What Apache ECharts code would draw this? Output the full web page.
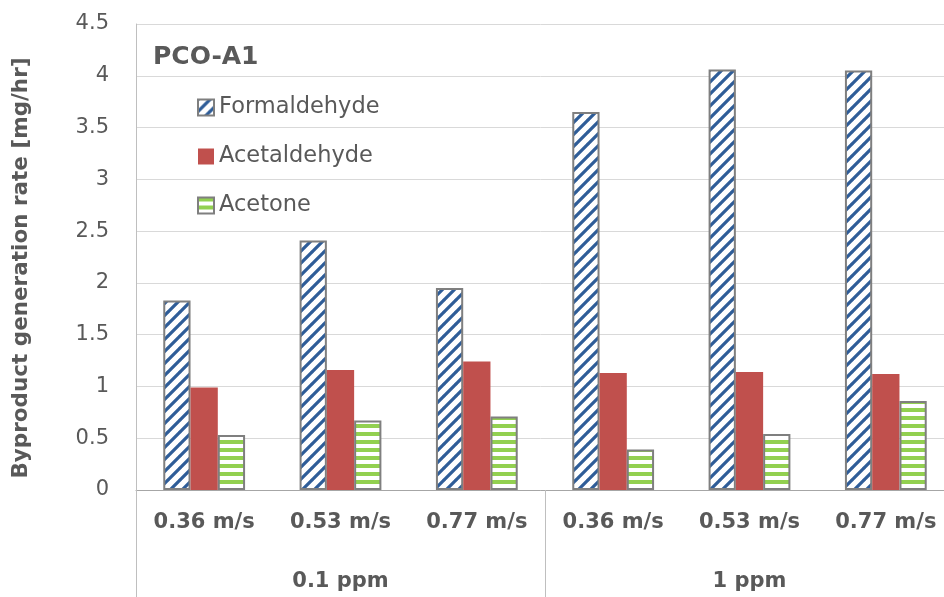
<!DOCTYPE html>
<html>
<head>
<meta charset="utf-8">
<script src="https://cdn.jsdelivr.net/npm/echarts@6/dist/echarts.min.js"></script>
<style>
  html, body { margin: 0; padding: 0; background: #ffffff; }
  #chart { width: 944px; height: 597px; }
</style>
</head>
<body>
<div id="chart"></div>
<script>
// Air speeds (inner category level) and inlet concentrations (outer level)
const speeds = ['0.36 m/s', '0.53 m/s', '0.77 m/s', '0.36 m/s', '0.53 m/s', '0.77 m/s'];
const concentrations = ['0.1 ppm', '1 ppm'];

// Byproduct generation rates, mg/hr
const formaldehyde = [1.83, 2.41, 1.95, 3.65, 4.06, 4.05];
const acetaldehyde = [0.99, 1.16, 1.24, 1.13, 1.14, 1.12];
const acetone      = [0.53, 0.67, 0.71, 0.39, 0.54, 0.86];

// Value axis range
const yMin = 0, yMax = 4.5, yStep = 0.5;

const FONT = '"DejaVu Sans", sans-serif';
const TEXT = '#595959';

// Upward diagonal hatch (white ground, blue stripes)
function diagonalTile() {
  const s = 12;
  const c = document.createElement('canvas');
  c.width = s; c.height = s;
  const g = c.getContext('2d');
  g.fillStyle = '#ffffff';
  g.fillRect(0, 0, s, s);
  g.strokeStyle = '#2f5d98';
  g.lineWidth = 3.2;
  g.beginPath();
  for (let k = -1; k <= 1; k++) {
    g.moveTo(k * s - 1, s + 1);
    g.lineTo(k * s + s + 1, -1);
  }
  g.stroke();
  return c;
}

// Horizontal green stripes
function horizontalTile() {
  const c = document.createElement('canvas');
  c.width = 8; c.height = 8;
  const g = c.getContext('2d');
  g.fillStyle = '#ffffff';
  g.fillRect(0, 0, 8, 8);
  g.fillStyle = '#92d050';
  g.fillRect(0, 0, 8, 4);
  return c;
}

const chart = echarts.init(document.getElementById('chart'), null, { renderer: 'canvas' });

// The plot runs slightly past the right edge of the canvas
const gridBox = { left: 136, right: -10, top: 24, bottom: 107, containLabel: false, outerBoundsMode: 'none' };

chart.setOption({
  backgroundColor: '#ffffff',
  animation: false,
  title: {
    text: 'PCO-A1',
    left: 148,
    top: 40,
    textStyle: { fontFamily: FONT, fontSize: 25, fontWeight: 'bold', color: TEXT }
  },
  legend: {
    orient: 'vertical',
    left: 197,
    top: 95,
    padding: 0,
    itemWidth: 16,
    itemHeight: 16,
    itemGap: 24,
    icon: 'rect',
    textStyle: { fontFamily: FONT, fontSize: 22.5, color: TEXT, lineHeight: 25 },
    data: ['Formaldehyde', 'Acetaldehyde', 'Acetone']
  },
  grid: [gridBox, Object.assign({}, gridBox)],
  xAxis: [
    {
      type: 'category',
      gridIndex: 0,
      data: speeds,
      axisLine: { show: true, lineStyle: { color: '#a6a6a6', width: 1 } },
      axisTick: { show: false },
      axisLabel: {
        interval: 0, margin: 22,
        fontFamily: FONT, fontSize: 21, fontWeight: 'bold', color: TEXT
      },
      splitLine: { show: false }
    },
    {
      type: 'category',
      gridIndex: 1,
      position: 'bottom',
      data: concentrations,
      axisLine: { show: false },
      axisTick: { show: true, interval: 0, length: 110, lineStyle: { color: '#bfbfbf', width: 1 } },
      axisLabel: {
        interval: 0, margin: 81,
        fontFamily: FONT, fontSize: 21, fontWeight: 'bold', color: TEXT
      },
      splitLine: { show: false }
    }
  ],
  yAxis: [
    {
      type: 'value',
      gridIndex: 0,
      min: yMin, max: yMax, interval: yStep,
      name: 'Byproduct generation rate [mg/hr]',
      nameLocation: 'middle',
      nameGap: 104,
      nameRotate: 90,
      nameTextStyle: {
        fontFamily: FONT, fontSize: 21.5, fontWeight: 'bold', color: TEXT,
        padding: [0, 22, 0, 0]
      },
      axisLine: { show: true, lineStyle: { color: '#bfbfbf', width: 1 } },
      axisTick: { show: false },
      axisLabel: { margin: 27, fontFamily: FONT, fontSize: 21, color: TEXT },
      splitLine: { show: true, lineStyle: { color: '#d9d9d9', width: 1 } }
    },
    {
      type: 'value',
      gridIndex: 1,
      min: yMin, max: yMax,
      show: false
    }
  ],
  series: [
    {
      name: 'Formaldehyde',
      type: 'bar',
      xAxisIndex: 0, yAxisIndex: 0,
      data: formaldehyde,
      barCategoryGap: '40%',
      barGap: '0%',
      itemStyle: {
        color: { image: diagonalTile(), repeat: 'repeat' },
        borderColor: '#7f7f7f',
        borderWidth: 2
      }
    },
    {
      name: 'Acetaldehyde',
      type: 'bar',
      xAxisIndex: 0, yAxisIndex: 0,
      data: acetaldehyde,
      barCategoryGap: '40%',
      barGap: '0%',
      itemStyle: { color: '#c0504d', borderWidth: 0 }
    },
    {
      name: 'Acetone',
      type: 'bar',
      xAxisIndex: 0, yAxisIndex: 0,
      data: acetone,
      barCategoryGap: '40%',
      barGap: '0%',
      itemStyle: {
        color: { image: horizontalTile(), repeat: 'repeat' },
        borderColor: '#7f7f7f',
        borderWidth: 2
      }
    }
  ]
});
</script>
</body>
</html>
